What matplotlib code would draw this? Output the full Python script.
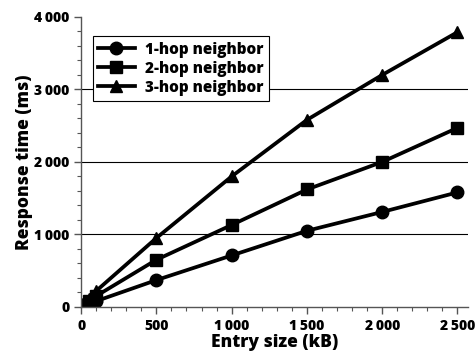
import matplotlib
matplotlib.use("Agg")
import matplotlib.pyplot as plt
from matplotlib.ticker import FuncFormatter, MultipleLocator

plt.rcParams['font.family'] = ['Open Sans', 'DejaVu Sans']
plt.rcParams['font.weight'] = 'bold'

entry_size = [10, 50, 100, 500, 1000, 1500, 2000, 2500]
hop1 = [20, 50, 80, 370, 710, 1050, 1310, 1580]
hop2 = [30, 80, 150, 650, 1130, 1620, 2000, 2470]
hop3 = [40, 110, 220, 950, 1800, 2580, 3200, 3790]
labels = ['1-hop neighbor', '2-hop neighbor', '3-hop neighbor']
markers = ['o', 's', '^']

fig = plt.figure(figsize=(4.77, 3.54), dpi=100)
ax = fig.add_axes([0.170, 0.133, 0.811, 0.819])

for ys, lab, m in zip([hop1, hop2, hop3], labels, markers):
    ax.plot(entry_size, ys, color='black', lw=2.7, marker=m, ms=9, label=lab)

ax.set_xlim(0, 2570)
ax.set_ylim(0, 4000)
ax.xaxis.set_major_locator(MultipleLocator(500))
ax.xaxis.set_minor_locator(MultipleLocator(100))
ax.yaxis.set_major_locator(MultipleLocator(1000))
ax.yaxis.set_minor_locator(MultipleLocator(200))

fmt = FuncFormatter(lambda v, p: f"{int(v):,}".replace(",", "\u2009"))
ax.xaxis.set_major_formatter(fmt)
ax.yaxis.set_major_formatter(fmt)

for y in [1000, 2000, 3000]:
    ax.axhline(y, color='black', lw=0.8, zorder=0)

for s in ['top', 'right']:
    ax.spines[s].set_visible(False)
for s in ['left', 'bottom']:
    ax.spines[s].set_color('#555555')
    ax.spines[s].set_linewidth(1.0)

ax.tick_params(which='major', length=5, width=1, color='#555555', labelsize=10)
ax.tick_params(which='minor', length=3, width=0.8, color='#555555')
for t in ax.get_xticklabels() + ax.get_yticklabels():
    t.set_fontweight('heavy')

ax.set_xlabel('Entry size (kB)', fontsize=12.5, fontweight='heavy', labelpad=1)
ax.set_ylabel('Response time (ms)', fontsize=12.5, fontweight='heavy', labelpad=1)

leg = ax.legend(loc='upper left', bbox_to_anchor=(0.01, 0.96), fancybox=False,
                edgecolor='black', framealpha=1, fontsize=11, handlelength=2.4,
                borderpad=0.35, labelspacing=0.2, handletextpad=0.7)
leg.get_frame().set_linewidth(0.8)
for t in leg.get_texts():
    t.set_fontweight('heavy')

fig.savefig('out.png', dpi=100)
